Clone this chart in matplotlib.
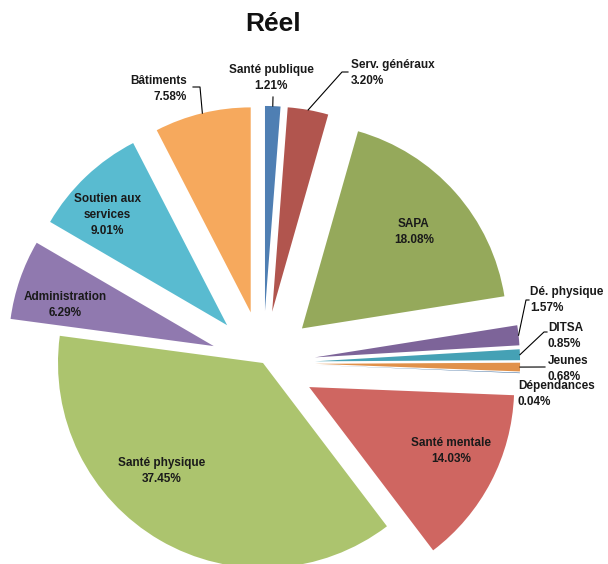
# -*- coding: UTF-8 -*-
import numpy as np
import matplotlib
matplotlib.use('Agg')
import matplotlib.pyplot as plt

plt.rcParams['font.family'] = ['Liberation Sans', 'DejaVu Sans']

categories = ['Santé publique', 'Serv. généraux', 'SAPA', 'Dé. physique', 'DITSA', 'Jeunes',
              'Dépendances', 'Santé mentale', 'Santé physique', 'Administration',
              'Soutien aux\nservices', 'Bâtiments']
values = [1.21, 3.20, 18.08, 1.57, 0.85, 0.68, 0.04, 14.03, 37.45, 6.29, 9.01, 7.58]
colors = ['#4F7FB3', '#B1554E', '#95A95B', '#7D6499', '#45A1B5', '#E1914A',
          '#2E6096', '#CF6661', '#ACC46E', '#9079AF', '#59BBD0', '#F6A95D']

# picture geometry (pixels): pie centre and radius
cx, cy, R = 263.0, 363.0, 205.0


def px(x, y):
    # image pixel -> data units (radius = 1)
    return (x - cx) / R, (cy - y) / R


explode = [0.254] * len(values)
explode[categories.index('Santé physique')] = 0.0

fig = plt.figure(figsize=(6.08, 5.64), dpi=100)
ax = fig.add_axes([0, 0, 1, 1])
wedges, _ = ax.pie(values, colors=colors, startangle=90, counterclock=False,
                   explode=explode, radius=1.0, wedgeprops=dict(linewidth=0))
ax.set_xlim(*sorted([px(0, 0)[0], px(608, 0)[0]]))
ax.set_ylim(px(0, 564)[1], px(0, 0)[1])
ax.set_aspect('equal')
ax.axis('off')

txt = dict(fontsize=8.5, fontweight='bold', color='#1a1a1a', linespacing=1.4)

# labels inside the slices (image pixel positions)
inside = {
    'SAPA': (414, 232),
    'Santé mentale': (451, 451),
    'Santé physique': (162, 471),
    'Administration': (65, 305),
    'Soutien aux\nservices': (107, 215),
}
# outside labels: text position, alignment, elbow points of the leader
outside = {
    'Santé publique': ((271, 78), 'center', [(273, 97)]),
    'Serv. généraux': ((351, 73), 'left', [(342, 72), (348, 72)]),
    'Bâtiments': ((187, 89), 'right', [(200, 87), (193, 87)]),
    'Dé. physique': ((530, 300), 'left', [(526, 300), (529, 300)]),
    'DITSA': ((548, 336), 'left', [(544, 332), (547, 332)]),
    'Jeunes': ((548, 369), 'left', [(545, 367)]),
    'Dépendances': ((518, 394), 'left', []),
}

for w, name, v in zip(wedges, categories, values):
    s = '%s\n%.2f%%' % (name, v)
    if name in inside:
        x, y = px(*inside[name])
        ax.text(x, y, s, ha='center', va='center', multialignment='center', **txt)
    else:
        (tx, ty), ha, elbow = outside[name]
        x, y = px(tx, ty)
        ax.text(x, y, s, ha=ha, va='center', multialignment=ha, **txt)
        if elbow:
            th = np.deg2rad((w.theta1 + w.theta2) / 2)
            x0 = w.center[0] + w.r * np.cos(th)
            y0 = w.center[1] + w.r * np.sin(th)
            pts = [(x0, y0)] + [px(*p) for p in elbow]
            ax.plot([p[0] for p in pts], [p[1] for p in pts], color='black', lw=0.8)

tx, ty = px(273, 24)
ax.text(tx, ty, 'Réel', ha='center', va='center', fontsize=19, fontweight='bold', color='#111111')

plt.savefig('out.png', dpi=100)
